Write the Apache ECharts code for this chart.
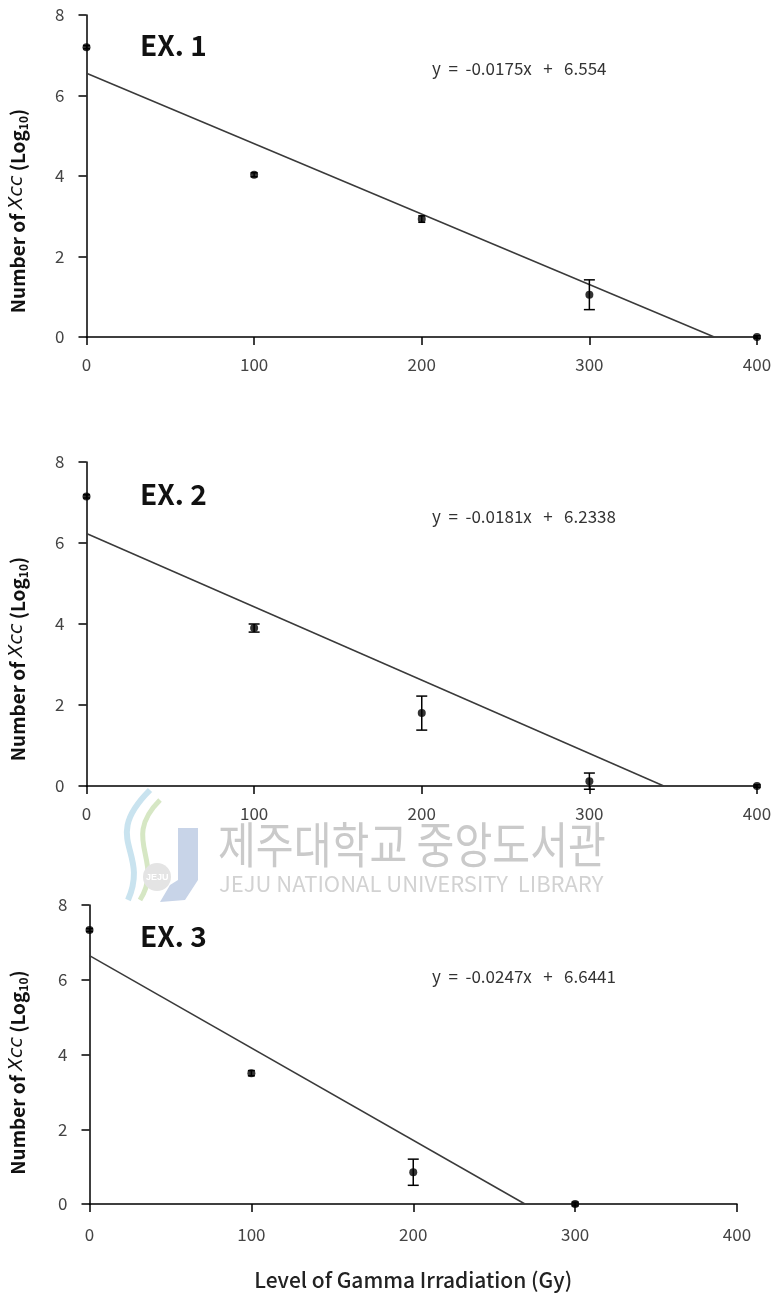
<!DOCTYPE html>
<html>
<head>
<meta charset="utf-8">
<script src="https://cdn.jsdelivr.net/npm/echarts@6/dist/echarts.min.js"></script>
<style>
html,body{margin:0;padding:0;background:#fff;}
#chart{width:776px;height:1293px;}
</style>
</head>
<body>
<div id="chart"></div>
<script>
// ---- data ----
const doses = [0, 100, 200, 300, 400];
const xTicks = [0, 100, 200, 300, 400];
const yTicks = [0, 2, 4, 6, 8];

const ex1Mean = [7.2, 4.03, 2.93, 1.05, 0];
const ex1Err  = [0.04, 0.05, 0.08, 0.37, 0.03];
const ex2Mean = [7.15, 3.9, 1.8, 0.12, 0];
const ex2Err  = [0.04, 0.1, 0.42, 0.2, 0.03];
const ex3Doses = [0, 100, 200, 300];
const ex3Mean = [7.33, 3.5, 0.85, 0];
const ex3Err  = [0.04, 0.07, 0.35, 0.05];

// trend-line endpoints (x, y)
const trend1 = [[0, 6.554], [374.5, 0]];
const trend2 = [[0, 6.2338], [344.4, 0]];
const trend3 = [[0, 6.6441], [269, 0]];

const panelLabels = ['EX. 1', 'EX. 2', 'EX. 3'];
const equations = ['y  =  -0.0175x   +   6.554', 'y  =  -0.0181x   +   6.2338', 'y  =  -0.0247x   +   6.6441'];
const xTitle = 'Level of Gamma Irradiation (Gy)';

// ---- chart ----
const FONT = '"Noto Sans CJK KR", "Open Sans", sans-serif';
const chart = echarts.init(document.getElementById('chart'), null, {renderer: 'canvas'});

const grids = [
  {left: 85, top: 15, width: 672, height: 322},
  {left: 85, top: 462, width: 672, height: 324},
  {left: 88, top: 905, width: 649, height: 299}
];

function yName() {
  return '{b|Number of }{i|Xcc}{b| (Log}{s|10}{b|)}';
}

const xAxes = grids.map((g, i) => ({
  type: 'value', gridIndex: i, min: 0, max: 400, interval: 100,
  axisLine: {show: true, lineStyle: {color: '#000', width: 1.5}},
  axisTick: {show: true, length: 8, lineStyle: {color: '#000', width: 1.5}},
  axisLabel: {color: '#444', fontSize: 17, fontFamily: FONT, margin: i === 2 ? 22 : 19},
  splitLine: {show: false},
  name: i === 2 ? xTitle : '',
  nameLocation: 'middle', nameGap: 66,
  nameTextStyle: {color: '#222', fontSize: 21, fontWeight: 500, fontFamily: FONT}
}));

const yAxes = grids.map((g, i) => ({
  type: 'value', gridIndex: i, min: 0, max: 8, interval: 2,
  axisLine: {show: true, lineStyle: {color: '#000', width: 1.5}},
  axisTick: {show: true, length: 8, lineStyle: {color: '#000', width: 1.5}},
  axisLabel: {color: '#444', fontSize: 17, fontFamily: FONT, margin: 22},
  splitLine: {show: false},
  name: yName(), nameLocation: 'middle', nameGap: i === 2 ? 60 : 57,
  nameTextStyle: {
    padding: [0, i === 2 ? 36 : 70, 0, 0],
    rich: {
      b: {fontWeight: 'bold', fontSize: 19, color: '#111', fontFamily: FONT, lineHeight: 24},
      i: {fontStyle: 'italic', fontSize: 19, color: '#111', fontFamily: '"DejaVu Sans", sans-serif', lineHeight: 24},
      s: {fontWeight: 'bold', fontSize: 12, color: '#111', fontFamily: FONT, lineHeight: 24, verticalAlign: 'bottom', padding: [7, 0, 0, 0]}
    }
  }
}));

function errSeries(idx, xs, means, errs) {
  return {
    type: 'custom', xAxisIndex: idx, yAxisIndex: idx, z: 3,
    data: xs.map((x, k) => [x, means[k] - errs[k], means[k] + errs[k]]),
    renderItem: function (params, api) {
      const lo = api.coord([api.value(0), api.value(1)]);
      const hi = api.coord([api.value(0), api.value(2)]);
      const w = Math.abs(lo[1] - hi[1]) > 8 ? 5.5 : 3.5;
      const st = {stroke: '#000', lineWidth: 1.5};
      return {type: 'group', children: [
        {type: 'line', shape: {x1: lo[0], y1: lo[1], x2: hi[0], y2: hi[1]}, style: st},
        {type: 'line', shape: {x1: lo[0] - w, y1: lo[1], x2: lo[0] + w, y2: lo[1]}, style: st},
        {type: 'line', shape: {x1: hi[0] - w, y1: hi[1], x2: hi[0] + w, y2: hi[1]}, style: st}
      ]};
    },
    clip: false, silent: true
  };
}
function pointSeries(idx, xs, means) {
  return {
    type: 'scatter', xAxisIndex: idx, yAxisIndex: idx, z: 4,
    symbol: 'circle', symbolSize: 8, clip: false,
    itemStyle: {color: '#000'},
    data: xs.map((x, k) => [x, means[k]])
  };
}
function trendSeries(idx, pts) {
  return {
    type: 'line', xAxisIndex: idx, yAxisIndex: idx, z: 2,
    data: pts, symbol: 'none', silent: true,
    lineStyle: {color: '#3a3a3a', width: 1.5}
  };
}

const exPos = [[140, 50], [140, 499], [140, 941]];
const eqPos = [[432, 72], [432, 520], [432, 980]];

const graphic = [];
panelLabels.forEach((t, i) => {
  graphic.push({type: 'text', left: exPos[i][0], top: exPos[i][1] - 19,
    style: {text: t, fill: '#111', font: 'bold 28px ' + FONT}});
  graphic.push({type: 'text', left: eqPos[i][0], top: eqPos[i][1] - 12,
    style: {text: equations[i], fill: '#333', font: '17px ' + FONT}});
});
// watermark
graphic.push({type: 'text', x: 218, y: 820, scaleX: 0.84, z: 0,
  style: {text: '제주대학교 중앙도서관', fill: '#cacaca', font: '49px "Noto Sans CJK KR"'}});
graphic.push({type: 'text', x: 219, y: 873, scaleX: 1.0, z: 0,
  style: {text: 'JEJU NATIONAL UNIVERSITY  LIBRARY', fill: '#d2d2d2', font: '22px "Noto Sans CJK KR"'}});
graphic.push({type: 'bezierCurve', z: 0, shape: {x1: 150, y1: 790, cpx1: 100, cpy1: 840, cpx2: 150, cpy2: 850, x2: 128, y2: 900},
  style: {stroke: '#c9e3ef', lineWidth: 6, fill: null}});
graphic.push({type: 'bezierCurve', z: 0, shape: {x1: 160, y1: 800, cpx1: 120, cpy1: 840, cpx2: 165, cpy2: 860, x2: 140, y2: 900},
  style: {stroke: '#d6e7c4', lineWidth: 5, fill: null}});
graphic.push({type: 'polygon', z: 0, shape: {points: [[178, 828], [198, 828], [198, 880], [185, 900], [160, 902], [170, 885], [178, 880]]},
  style: {fill: '#c8d4e8'}});
graphic.push({type: 'circle', z: 0, shape: {cx: 157, cy: 877, r: 14}, style: {fill: '#e4e4e4'}});
graphic.push({type: 'text', z: 0, left: 146, top: 873, style: {text: 'JEJU', fill: '#ffffff', font: 'bold 9px sans-serif'}});

const series = [
  trendSeries(0, trend1), errSeries(0, doses, ex1Mean, ex1Err), pointSeries(0, doses, ex1Mean),
  trendSeries(1, trend2), errSeries(1, doses, ex2Mean, ex2Err), pointSeries(1, doses, ex2Mean),
  trendSeries(2, trend3), errSeries(2, ex3Doses, ex3Mean, ex3Err), pointSeries(2, ex3Doses, ex3Mean)
];

chart.setOption({
  backgroundColor: '#fff',
  animation: false,
  grid: grids,
  xAxis: xAxes,
  yAxis: yAxes,
  series: series,
  graphic: graphic
});
</script>
</body>
</html>
